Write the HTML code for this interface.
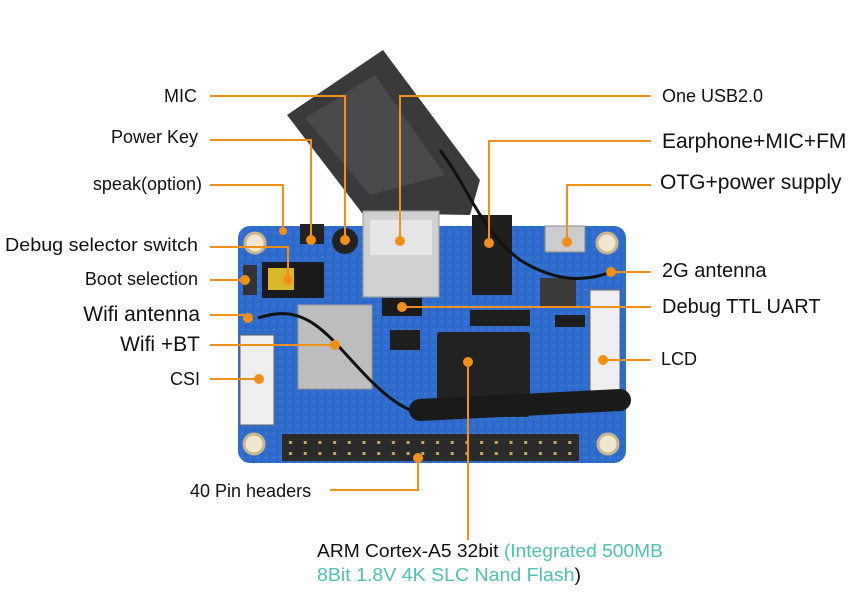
<!DOCTYPE html>
<html><head><meta charset="utf-8"><style>
html,body{margin:0;padding:0;background:#fff;width:867px;height:597px;overflow:hidden}
svg text{font-family:"Liberation Sans",sans-serif;fill:#111}
</style></head><body>
<svg width="867" height="597" viewBox="0 0 867 597" xmlns="http://www.w3.org/2000/svg">
<defs>
<pattern id="pins" x="284" y="437" width="14.7" height="11" patternUnits="userSpaceOnUse">
<rect x="0" y="0" width="14.7" height="11" fill="#2a2a2a"/>
<rect x="5" y="4" width="3" height="3" fill="#c9a85a"/>
</pattern>
<pattern id="pcb" width="8" height="8" patternUnits="userSpaceOnUse">
<rect width="8" height="8" fill="#2f6ccc"/>
<rect x="1" y="1" width="2" height="1" fill="#4a88e0"/>
<rect x="5" y="5" width="1" height="2" fill="#1f56b0"/>
</pattern>
</defs>
<!-- board -->
<rect x="238" y="226" width="388" height="237" rx="12" fill="url(#pcb)"/>
<!-- mount holes -->
<g fill="#f1e6cf" stroke="#c9b58f" stroke-width="3">
<circle cx="255" cy="243" r="10"/><circle cx="607" cy="243" r="10"/>
<circle cx="254" cy="444" r="10"/><circle cx="608" cy="444" r="10"/></g>
<!-- antenna sheet -->
<polygon points="287,115 383,50 480,180 470,215 362,213" fill="#3a3a3c"/>
<polygon points="305,118 375,75 445,175 370,195" fill="#4a4a4d"/>
<!-- USB -->
<rect x="363" y="211" width="76" height="86" fill="#d0d0d0" stroke="#999"/>
<rect x="370" y="220" width="62" height="35" fill="#e6e6e6"/>
<!-- audio jack -->
<rect x="472" y="215" width="40" height="80" fill="#1f1f1f"/>
<!-- micro usb -->
<rect x="545" y="226" width="40" height="26" fill="#ccc" stroke="#888"/>
<!-- inductor -->
<rect x="540" y="278" width="36" height="30" fill="#3a3a3a"/>
<!-- small chips -->
<g fill="#1e1e1e">
<rect x="505" y="345" width="12" height="10"/><rect x="470" y="310" width="60" height="16"/>
<rect x="555" y="315" width="30" height="12"/><rect x="390" y="330" width="30" height="20"/>
</g>
<!-- buttons / mic -->
<rect x="300" y="224" width="24" height="20" fill="#222"/>
<circle cx="345" cy="241" r="13" fill="#222"/>
<!-- jumper -->
<rect x="262" y="262" width="62" height="36" fill="#1a1a1a"/>
<rect x="268" y="268" width="26" height="22" fill="#d8b82a"/>
<rect x="243" y="265" width="14" height="30" fill="#333"/>
<!-- wifi shield -->
<rect x="298" y="305" width="74" height="84" fill="#bdbdbd" stroke="#999"/>
<!-- SoC -->
<rect x="437" y="332" width="93" height="85" fill="#222" rx="3"/>
<!-- CSI / LCD connectors -->
<rect x="240" y="335" width="34" height="90" fill="#eee" stroke="#666"/>
<rect x="590" y="290" width="30" height="115" fill="#eee" stroke="#666"/>
<!-- debug header -->
<rect x="382" y="298" width="40" height="18" fill="#1a1a1a"/>
<!-- 40-pin header -->
<rect x="282" y="434" width="297" height="27" fill="url(#pins)"/>
<!-- antenna cables -->
<path d="M440 150 C470 190,480 230,520 260 C560 285,590 280,611 272" stroke="#111" stroke-width="3" fill="none"/>
<path d="M258 318 C310 300,330 340,370 380 C400 410,420 418,450 415" stroke="#111" stroke-width="3" fill="none"/>
<path d="M420 410 L620 400" stroke="#1a1a1a" stroke-width="22" stroke-linecap="round"/>
<!-- leader lines -->
<g stroke="#f0901a" stroke-width="2" fill="none">
<path d="M210 96 H345 V240"/>
<path d="M210 140 H311 V240"/>
<path d="M210 185 H283 V231"/>
<path d="M210 247 H288 V280"/>
<path d="M210 280 H245"/>
<path d="M210 315 H248"/>
<path d="M210 345 H335"/>
<path d="M210 379 H259"/>
<path d="M330 490 H418 V458"/>
<path d="M468 362 V540"/>
<path d="M651 96 H400 V241"/>
<path d="M651 141 H489 V243"/>
<path d="M651 185 H567 V242"/>
<path d="M651 272 H611"/>
<path d="M651 307 H402"/>
<path d="M651 360 H603"/>
</g>
<g fill="#f0901a">
<circle cx="345" cy="240" r="5"/><circle cx="311" cy="240" r="5"/><circle cx="283" cy="231" r="4"/>
<circle cx="288" cy="280" r="5"/><circle cx="245" cy="280" r="5"/><circle cx="248" cy="318" r="5"/>
<circle cx="335" cy="345" r="5"/><circle cx="259" cy="379" r="5"/><circle cx="418" cy="458" r="5"/>
<circle cx="468" cy="362" r="5"/><circle cx="400" cy="241" r="5"/><circle cx="489" cy="243" r="5"/>
<circle cx="567" cy="242" r="5"/><circle cx="611" cy="272" r="5"/><circle cx="402" cy="307" r="5"/>
<circle cx="603" cy="360" r="5"/>
</g>
<!-- labels -->
<g text-anchor="end" font-size="18">
<text x="197" y="102">MIC</text>
<text x="198" y="143">Power Key</text>
<text x="202" y="190">speak(option)</text>
<text x="198" y="251" textLength="193" lengthAdjust="spacingAndGlyphs">Debug selector switch</text>
<text x="198" y="285">Boot selection</text>
<text x="200" y="321" font-size="21">Wifi antenna</text>
<text x="200" y="351" font-size="21">Wifi +BT</text>
<text x="200" y="385">CSI</text>
</g>
<text x="190" y="497" font-size="18">40 Pin headers</text>
<text x="662" y="102" font-size="18">One USB2.0</text>
<text x="662" y="148" font-size="21">Earphone+MIC+FM</text>
<text x="660" y="189" font-size="21">OTG+power supply</text>
<text x="662" y="277" font-size="20">2G antenna</text>
<text x="662" y="313" font-size="20">Debug TTL UART</text>
<text x="661" y="365" font-size="18">LCD</text>
<text x="317" y="557" font-size="18" textLength="346" lengthAdjust="spacingAndGlyphs">ARM Cortex-A5 32bit <tspan style="fill:#4fc0b5">(Integrated 500MB</tspan></text>
<text x="317" y="581" font-size="18" textLength="264" lengthAdjust="spacingAndGlyphs" style="fill:#4fc0b5">8Bit 1.8V 4K SLC Nand Flash<tspan style="fill:#111">)</tspan></text>
</svg>
</body></html>
